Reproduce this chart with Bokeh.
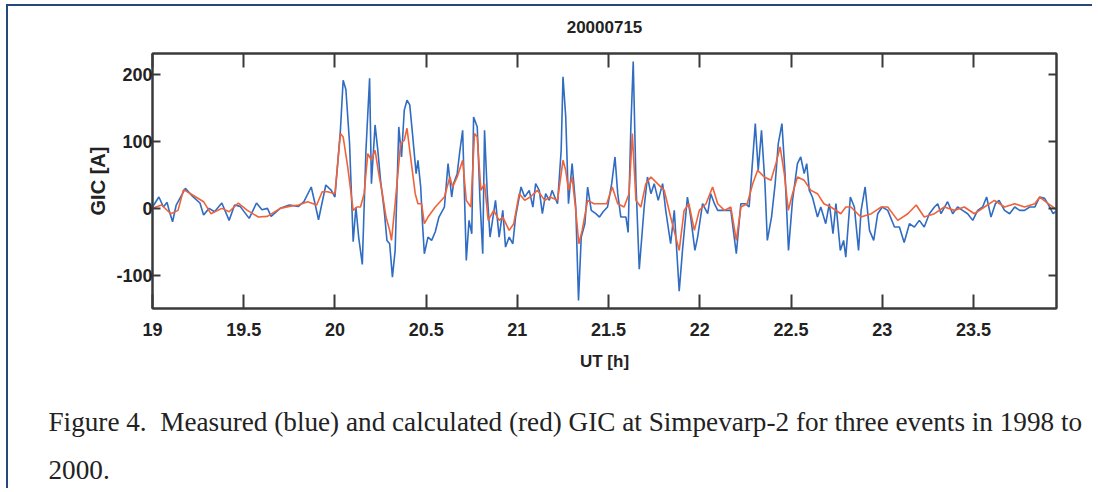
from bokeh.plotting import figure
from bokeh.models import (LinearAxis, FixedTicker, CustomJSTickFormatter, Range1d, Title)
from bokeh.embed import file_html
from bokeh.resources import INLINE

# ---------------- data ----------------
title_text = "20000715"
x_label = "UT [h]"
y_label = "GIC [A]"
caption_line1 = "Figure 4.\u00a0 Measured (blue) and calculated (red) GIC at Simpevarp-2 for three events in 1998 to"
caption_line2 = "2000."

x_ticks = [19, 19.5, 20, 20.5, 21, 21.5, 22, 22.5, 23, 23.5]
x_tick_labels = ["19", "19.5", "20", "20.5", "21", "21.5", "22", "22.5", "23", "23.5"]
y_ticks = [-100, 0, 100, 200]
y_tick_labels = ["-100", "0", "100", "200"]

# measured GIC (blue)
measured_t = [19.0, 19.035, 19.06, 19.08, 19.09, 19.11, 19.13, 19.18, 19.22, 19.26,
              19.28, 19.31, 19.34, 19.38, 19.42, 19.45, 19.48, 19.53, 19.57, 19.6,
              19.63, 19.65, 19.7, 19.75, 19.8, 19.83, 19.87, 19.89, 19.91, 19.95,
              19.98, 20.0, 20.03, 20.045, 20.06, 20.08, 20.1, 20.115, 20.13, 20.15,
              20.17, 20.19, 20.2, 20.22, 20.235, 20.25, 20.27, 20.285, 20.3, 20.315,
              20.33, 20.35, 20.365, 20.38, 20.395, 20.41, 20.425, 20.445, 20.455, 20.47,
              20.48, 20.49, 20.51, 20.53, 20.55, 20.57, 20.6, 20.62, 20.64, 20.65,
              20.67, 20.685, 20.7, 20.72, 20.735, 20.75, 20.76, 20.78, 20.795, 20.81,
              20.82, 20.835, 20.85, 20.88, 20.9, 20.92, 20.935, 20.955, 20.975, 20.99,
              21.02, 21.04, 21.065, 21.085, 21.1, 21.12, 21.137, 21.155, 21.175, 21.19,
              21.22, 21.24, 21.25, 21.265, 21.28, 21.3, 21.32, 21.335, 21.35, 21.37,
              21.385, 21.405, 21.43, 21.45, 21.47, 21.494, 21.517, 21.535, 21.55, 21.567,
              21.595, 21.607, 21.622, 21.635, 21.65, 21.668, 21.695, 21.713, 21.732, 21.75,
              21.772, 21.796, 21.813, 21.84, 21.86, 21.887, 21.905, 21.932, 21.95, 21.973,
              21.988, 22.015, 22.043, 22.06, 22.08, 22.098, 22.135, 22.17, 22.2, 22.225,
              22.25, 22.27, 22.28, 22.304, 22.32, 22.338, 22.357, 22.37, 22.393, 22.413,
              22.43, 22.45, 22.467, 22.486, 22.508, 22.535, 22.553, 22.572, 22.586, 22.6,
              22.617, 22.645, 22.663, 22.69, 22.71, 22.73, 22.746, 22.77, 22.788, 22.8,
              22.825, 22.847, 22.87, 22.884, 22.906, 22.93, 22.953, 22.975, 23.0, 23.03,
              23.067, 23.094, 23.12, 23.149, 23.176, 23.203, 23.23, 23.258, 23.286, 23.304,
              23.322, 23.358, 23.386, 23.413, 23.44, 23.468, 23.496, 23.523, 23.55, 23.572,
              23.596, 23.62, 23.64, 23.67, 23.698, 23.726, 23.753, 23.78, 23.808, 23.836,
              23.863, 23.89, 23.918, 23.936, 23.96]
measured_v = [2, 17, 2, 9, -2, -20, 5, 30, 18, 8,
              -10, 0, -5, 8, -18, 5, 3, -15, 8, -2,
              0, -12, 0, 5, 3, 10, 32, 8, -17, 35,
              27, 17, 117, 192, 178, 98, -50, 2, -43, -84,
              87, 195, 37, 125, 87, 42, -3, -48, -53, -103,
              -63, 122, 77, 147, 162, 155, 112, 52, 72, 32,
              -23, -68, -43, -48, -35, -13, 2, 67, 17, 37,
              52, 87, 117, -78, -18, -38, 137, 122, 12, -68,
              117, 22, -43, 12, -43, -3, -58, -43, -53, -13,
              32, 17, 27, 2, 37, 27, -8, 22, 12, 27,
              7, 87, 197, 137, 7, 67, 2, -138, -43, -23,
              32, -3, -8, -13, -5, 2, 37, 77, 22, -13,
              -13, -36, 122, 220, 37, -91, 2, 47, 22, 37,
              12, 37, -3, -53, -3, -124, -63, 17, -13, -63,
              -43, 7, -8, 22, 7, -3, -3, -3, -68, 7,
              7, 2, 37, 127, 57, 117, 37, -48, -13, 37,
              97, 127, 52, -63, 12, 67, 77, 52, 67, 27,
              17, -13, 2, -23, 7, -38, 7, -63, -48, -73,
              17, 2, -63, -3, 32, -33, -48, -8, 2, -3,
              -28, -28, -51, -23, -28, -18, -28, -8, 2, 7,
              -8, 10, -8, 2, -3, -8, -18, -3, 2, 17,
              -13, 7, 12, -3, -8, 2, -3, -3, 2, 2,
              17, 15, 2, -8, -3]

# calculated GIC (red)
calculated_t = [19.0, 19.05, 19.1, 19.14, 19.17, 19.22, 19.28, 19.32, 19.38, 19.42,
                19.47, 19.52, 19.58, 19.63, 19.7, 19.75, 19.8, 19.85, 19.9, 19.93,
                19.96, 20.0, 20.03, 20.045, 20.07, 20.1, 20.12, 20.14, 20.16, 20.18,
                20.2, 20.22, 20.24, 20.26, 20.28, 20.3, 20.31, 20.33, 20.36, 20.38,
                20.395, 20.41, 20.44, 20.455, 20.475, 20.49, 20.51, 20.55, 20.6, 20.63,
                20.645, 20.67, 20.7, 20.72, 20.745, 20.765, 20.78, 20.8, 20.82, 20.84,
                20.87, 20.9, 20.92, 20.955, 20.98, 21.01, 21.04, 21.07, 21.11, 21.15,
                21.18, 21.22, 21.25, 21.265, 21.28, 21.3, 21.32, 21.337, 21.355, 21.385,
                21.42, 21.45, 21.49, 21.52, 21.55, 21.585, 21.612, 21.63, 21.65, 21.677,
                21.704, 21.732, 21.768, 21.805, 21.84, 21.887, 21.914, 21.94, 21.97, 21.997,
                22.034, 22.07, 22.098, 22.135, 22.17, 22.2, 22.225, 22.26, 22.29, 22.317,
                22.353, 22.39, 22.417, 22.44, 22.463, 22.485, 22.508, 22.535, 22.572, 22.609,
                22.645, 22.68, 22.718, 22.773, 22.8, 22.828, 22.883, 22.94, 22.993, 23.03,
                23.085, 23.14, 23.186, 23.23, 23.286, 23.34, 23.395, 23.45, 23.505, 23.56,
                23.615, 23.67, 23.726, 23.78, 23.836, 23.863, 23.91, 23.96]
calculated_v = [0, 5, -8, -3, 28, 20, 10, -8, 0, -5,
                8, -3, -13, -12, 0, 3, 5, 10, 5, 25,
                25, 22, 112, 107, 62, -3, 2, 2, 22, 82,
                72, 87, 52, 22, -13, -33, -48, 7, 97, 102,
                120, 87, 22, 7, 7, -23, -13, 2, 17, 47,
                32, 47, 72, 12, 2, 112, 107, 27, 37, -18,
                -3, -18, -13, -33, -23, 22, 12, 17, 27, 12,
                17, 12, 72, 57, 27, 47, -3, -53, -33, 12,
                7, 7, 7, 32, 7, 2, 22, 112, 12, 2,
                37, 47, 37, 27, -13, -63, -3, 7, -33, -3,
                7, 32, 7, -3, 2, -48, 2, 7, 37, 57,
                47, 42, 67, 92, 52, -3, 22, 47, 42, 27,
                22, 7, 2, -8, 2, 2, -13, -8, 2, 2,
                -18, -8, 5, -13, -8, 2, -3, 2, -8, 2,
                12, 2, 7, 2, 7, 17, 7, -3]

x_min, x_max = 19.0, 23.955
y_min, y_max = -150, 232

# ---------------- layout constants ----------------
W, H = 1086, 484
FL, FR, FT, FB = 144, 38, 47, 182   # borders around the frame

SANS = "Liberation Sans"
SERIF = "Liberation Serif"
AX = "#3a3a3a"
TXT = "#222222"
BC = "#27497a"

p = figure(width=W, height=H, output_backend="svg", toolbar_location=None,
           x_range=Range1d(x_min, x_max), y_range=Range1d(y_min, y_max),
           min_border_left=FL, min_border_right=FR, min_border_top=FT, min_border_bottom=FB,
           background_fill_color="white", border_fill_color="white",
           styles={"margin-left": "6px", "margin-top": "4px",
                   "border-left": f"2px solid {BC}", "border-top": f"2px solid {BC}"})
p.xgrid.visible = False
p.ygrid.visible = False
p.outline_line_color = AX
p.outline_line_width = 2

def style_axis(ax, ticks, tick_len):
    ax.ticker = FixedTicker(ticks=ticks)
    ax.minor_tick_line_color = None
    ax.major_tick_in = tick_len
    ax.major_tick_out = 0
    ax.axis_line_color = AX
    ax.axis_line_width = 2
    ax.major_tick_line_color = AX
    ax.major_tick_line_width = 2
    ax.major_label_text_font = SANS
    ax.major_label_text_font_style = "bold"
    ax.major_label_text_font_size = "18px"
    ax.major_label_text_color = TXT

xa = p.xaxis[0]
style_axis(xa, x_ticks, 14)
xa.major_label_overrides = {(int(t) if float(t).is_integer() else t): lab
                            for t, lab in zip(x_ticks, x_tick_labels)}
xa.major_label_standoff = 14
xa.axis_label = x_label
xa.axis_label_text_font = SANS
xa.axis_label_text_font_style = "bold"
xa.axis_label_text_font_size = "17px"
xa.axis_label_text_color = TXT
xa.axis_label_standoff = 13

ya = p.yaxis[0]
style_axis(ya, y_ticks, 8)
ya.major_label_overrides = {t: lab for t, lab in zip(y_ticks, y_tick_labels)}
ya.major_label_standoff = 0
ya.axis_label = y_label
ya.axis_label_text_font = SANS
ya.axis_label_text_font_style = "bold"
ya.axis_label_text_font_size = "20px"
ya.axis_label_text_color = TXT
ya.axis_label_standoff = 4

blank = "return ''"
# mirrored top axis carries the panel title "20000715"
top_ax = LinearAxis(formatter=CustomJSTickFormatter(code=blank))
style_axis(top_ax, x_ticks, 14)
top_ax.major_label_standoff = 0
top_ax.axis_label = title_text
top_ax.axis_label_text_font = SANS
top_ax.axis_label_text_font_style = "bold"
top_ax.axis_label_text_font_size = "17px"
top_ax.axis_label_text_color = TXT
top_ax.axis_label_standoff = 21
p.add_layout(top_ax, "above")

right_ax = LinearAxis(formatter=CustomJSTickFormatter(code=blank))
style_axis(right_ax, y_ticks, 8)
right_ax.major_label_standoff = 0
p.add_layout(right_ax, "right")

p.line(measured_t, measured_v, line_color="#2f6cc2", line_width=1.6)
p.line(calculated_t, calculated_v, line_color="#f0623a", line_width=1.6)

# figure caption below the plot (two lines)
for txt, st in [(caption_line1, 62), (caption_line2, -23)]:
    p.add_layout(Title(text=txt, align="left", offset=-104, standoff=st,
                       text_font=SERIF, text_font_style="normal",
                       text_font_size="27.2px", text_color=TXT), "below")

open("out.html", "w").write(file_html(p, INLINE))
